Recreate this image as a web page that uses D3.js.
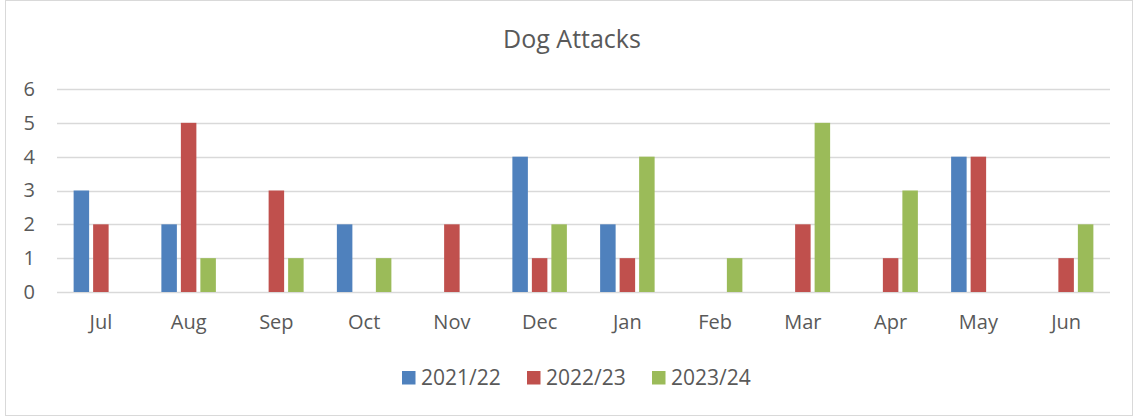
<!DOCTYPE html>
<html>
<head>
<meta charset="utf-8">
<script src="https://cdn.jsdelivr.net/npm/d3@7"></script>
<style>
  html, body { margin: 0; padding: 0; background: #fff; }
  svg text { font-family: "Open Sans", "Noto Sans", sans-serif; fill: #595959; }
</style>
</head>
<body>
<svg id="chart" width="1138" height="419"></svg>
<script>
// Monthly dog attack counts by financial year
const months = ["Jul", "Aug", "Sep", "Oct", "Nov", "Dec", "Jan", "Feb", "Mar", "Apr", "May", "Jun"];
const seriesNames = ["2021/22", "2022/23", "2023/24"];
const values2021 = [3, 2, 0, 2, 0, 4, 2, 0, 0, 0, 4, 0];
const values2022 = [2, 5, 3, 0, 2, 1, 1, 0, 2, 1, 4, 1];
const values2023 = [0, 1, 1, 1, 0, 2, 4, 1, 5, 3, 0, 2];
const yTicks = [0, 1, 2, 3, 4, 5, 6];
const colors = ["#4F81BD", "#C0504D", "#9BBB59"];

const seriesValues = [values2021, values2022, values2023];
const rows = months.map((m, i) => ({ month: m, vals: seriesValues.map(s => s[i]) }));

const svg = d3.select("#chart");

// Chart frame
svg.append("rect")
  .attr("x", 5.5).attr("y", 0.5)
  .attr("width", 1127).attr("height", 415)
  .attr("fill", "#fff").attr("stroke", "#d9d9d9").attr("stroke-width", 1);

const plot = { left: 57, right: 1110, top: 89, bottom: 292 };

const x = d3.scaleBand().domain(months).range([plot.left, plot.right]).paddingInner(0).paddingOuter(0);
const y = d3.scaleLinear().domain([0, 6]).range([plot.bottom, plot.top]);
const barW = 15.5;
const barStep = 19.5;
const xSub = d3.scaleBand().domain(seriesNames).range([-barStep * 1.5, barStep * 1.5]);

// Gridlines
svg.append("g")
  .selectAll("line")
  .data(yTicks)
  .join("line")
  .attr("x1", plot.left).attr("x2", plot.right)
  .attr("y1", d => Math.round(y(d)) + 0.5).attr("y2", d => Math.round(y(d)) + 0.5)
  .attr("stroke", "#d9d9d9").attr("stroke-width", 1.5);

// Y axis labels
const yAxis = d3.axisLeft(y).tickValues(yTicks).tickSize(0).tickPadding(0).tickFormat(d3.format("d"));
svg.append("g")
  .attr("transform", `translate(35,0)`)
  .call(yAxis)
  .call(g => g.select(".domain").remove())
  .selectAll("text")
  .attr("font-size", 20)
  .attr("fill", "#595959")
  .style("font-family", "'Open Sans', sans-serif");

// Bars
const groups = svg.append("g")
  .selectAll("g")
  .data(rows)
  .join("g")
  .attr("transform", d => `translate(${x(d.month) + x.bandwidth() / 2},0)`);

groups.selectAll("rect")
  .data(d => d.vals.map((v, i) => ({ v, i })))
  .join("rect")
  .attr("x", d => xSub(seriesNames[d.i]) + (barStep - barW) / 2)
  .attr("width", barW)
  .attr("y", d => y(d.v))
  .attr("height", d => y(0) - y(d.v))
  .attr("fill", d => colors[d.i]);

// X axis labels
const xAxis = d3.axisBottom(x).tickSize(0).tickPadding(0);
svg.append("g")
  .attr("transform", `translate(0,${plot.bottom + 23})`)
  .call(xAxis)
  .call(g => g.select(".domain").remove())
  .selectAll("text")
  .attr("font-size", 20)
  .attr("fill", "#595959")
  .style("font-family", "'Open Sans', sans-serif");

// Title
svg.append("text")
  .attr("x", 572).attr("y", 48)
  .attr("text-anchor", "middle")
  .attr("font-size", 25)
  .text("Dog Attacks");

// Legend
const legendX = [402, 527, 652];
const legend = svg.append("g")
  .selectAll("g")
  .data(seriesNames)
  .join("g")
  .attr("transform", (d, i) => `translate(${legendX[i]},371)`);
legend.append("rect")
  .attr("width", 13.5).attr("height", 13.5)
  .attr("fill", (d, i) => colors[i]);
legend.append("text")
  .attr("x", 19).attr("y", 14)
  .attr("font-size", 21)
  .text(d => d);
</script>
</body>
</html>
